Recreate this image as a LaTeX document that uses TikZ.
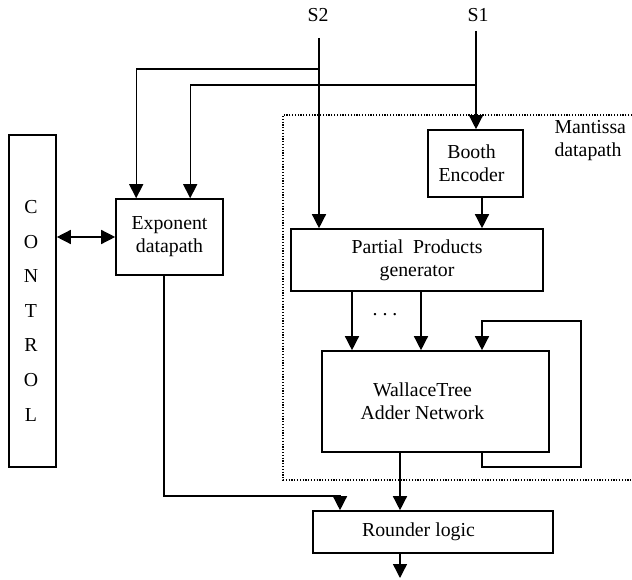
\documentclass[tikz,border=0pt]{standalone}
\usepackage{fontspec}
\setmainfont{Liberation Serif}
\usetikzlibrary{calc,positioning,arrows.meta}
\tikzset{
  blk/.style={draw,rectangle,line width=1.6pt,inner sep=0pt,align=center},
  wire/.style={line width=1.4pt},
  arr/.style={wire,-{Triangle[length=14pt,width=14pt]}},
  dblarr/.style={wire,{Triangle[length=14pt,width=14pt]}-{Triangle[length=14pt,width=14pt]}},
}

\begin{document}
\begin{tikzpicture}[x=1pt,y=-1pt,font=\fontsize{19.8}{23}\selectfont]
  \useasboundingbox (0,0) rectangle (632,580);

  % control unit, letters stacked
  \node [blk,minimum width=47pt,minimum height=332pt] at(32.5,301) (ctrl_box) {};
  \foreach \ch [count=\n] in {C,O,N,T,R,O,L}{
    \node at(31,{207+34.6*(\n-1)}) (ctrl_\n) {\ch};
  }

  \node [blk,minimum width=107pt,minimum height=76pt] at(169.5,237) (exp_box) {Exponent\\datapath};
  \node [blk,minimum width=95pt,minimum height=67pt] at(475.5,163.5) (booth_enc) {Booth\hspace*{8pt}\\Encoder\hspace*{8pt}};
  \node [blk,minimum width=252pt,minimum height=62pt] at(417,260) (pp_gen) {Partial~~Products\\generator};
  \node [blk,minimum width=227pt,minimum height=101pt] at(435.5,401.5) (wallace) {WallaceTree\hspace*{26pt}\\Adder Network\hspace*{26pt}};
  \node [blk,minimum width=240pt,minimum height=42pt] at(433,532) (rounder) {Rounder logic\hspace*{29pt}};

  \node at(318,15) (s2_lbl) {S2};
  \node at(478,15) (s1_lbl) {S1};
  \node [align=left,anchor=west] at(551,141) (mant_lbl) {Mantissa\\datapath};
  \node at(385,315) (pp_dots) {.\ .\ .};

  % mantissa datapath frame (open to the right)
  \draw[line width=1.2pt,dash pattern=on 1.2pt off 1.6pt] (632,115) -| (283,480) -- (632,480);

  \coordinate (s2_in) at(319,38);
  \coordinate (s1_in) at(476,31);
  \coordinate (s2_tap) at(319,69);
  \coordinate (s1_tap) at(476,85);
  \coordinate (be_out) at($(booth_enc.south)+(6.5,0)$);
  \coordinate (fb_turn) at(581,467);
  \coordinate (fb_top) at(581,321);
  \coordinate (exp_turn) at(340,496);
  \coordinate (out_pt) at(400,578);

  \draw[arr] (s2_in) -- (s2_in |- pp_gen.north);
  \draw[arr] (s1_in) -- (s1_in |- booth_enc.north);
  \draw[arr] (s2_tap) -| ($(exp_box.north west)+(21,0)$);
  \draw[arr] (s1_tap) -| ($(exp_box.north west)+(75,0)$);
  \draw[arr] (be_out) -- (be_out |- pp_gen.north);

  \foreach \xo in {352,421}{
    \draw[arr] (\xo,0 |- pp_gen.south) -- (\xo,0 |- wallace.north);
  }

  \draw[arr] (482,0 |- wallace.south) |- (fb_turn) -- (fb_top) -| (482,0 |- wallace.north);
  \draw[arr] (400,0 |- wallace.south) -- (400,0 |- rounder.north);
  \draw[arr] (164,0 |- exp_box.south) |- (exp_turn) -- (exp_turn |- rounder.north);
  \draw[arr] (400,0 |- rounder.south) -- (out_pt);
  \draw[dblarr] (ctrl_box.east |- exp_box.west) -- (exp_box.west);
\end{tikzpicture}
\end{document}
